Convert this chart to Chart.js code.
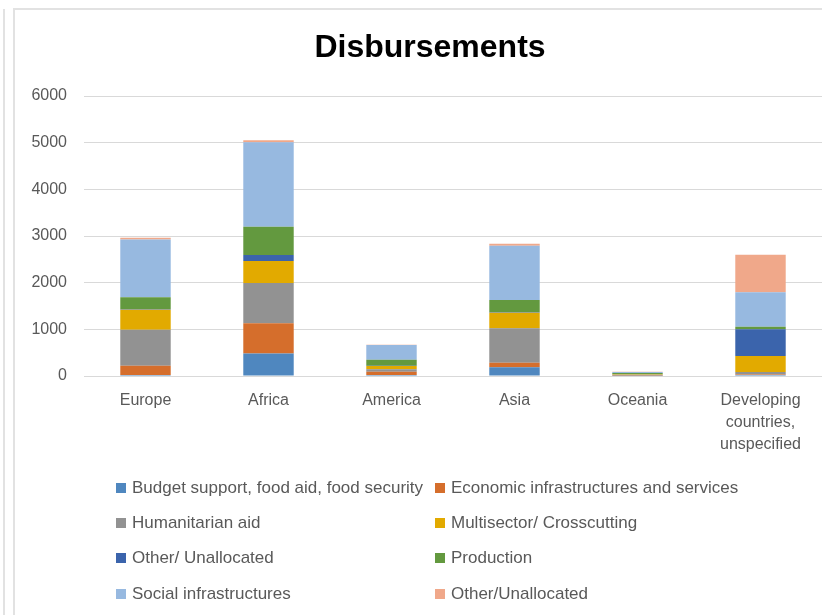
<!DOCTYPE html>
<html>
<head>
<meta charset="utf-8">
<script src="https://cdn.jsdelivr.net/npm/chart.js@4/dist/chart.umd.min.js"></script>
<style>
  html, body { margin: 0; padding: 0; background: #fff; overflow: hidden; }
  body { width: 822px; height: 615px; position: relative; font-family: "Liberation Sans", Arial, sans-serif; }
  .edge { position: absolute; background: #e2e2e2; }
  #box { position: absolute; left: 14px; top: 9px; width: 808px; height: 606px; }
  #legend { position: absolute; left: 0; top: 0; width: 822px; height: 615px; pointer-events: none; }
  .item { position: absolute; height: 22px; display: flex; align-items: center; font-size: 17px; color: #595959; white-space: nowrap; }
  .item span.sw { display: inline-block; width: 10px; height: 10px; margin-right: 6px; }
</style>
</head>
<body>
<div class="edge" style="left:3px;top:9px;width:2px;height:606px"></div>
<div class="edge" style="left:13px;top:9px;width:2px;height:606px"></div>
<div class="edge" style="left:13px;top:8px;width:809px;height:2px"></div>
<div id="box"><canvas id="disbChart" width="808" height="606"></canvas></div>
<div id="legend"></div>
<script>
const regions = ['Europe', 'Africa', 'America', 'Asia', 'Oceania', ['Developing', 'countries,', 'unspecified']];

// values per sector, same order as regions
const budgetSupport = [20, 480, 20, 186, 5, 20];
const economicInfra = [200, 650, 70, 99, 10, 10];
const humanitarian = [772, 863, 53, 736, 10, 56];
const multisector = [428, 471, 71, 336, 10, 343];
const otherUnallocated1 = [10, 129, 5, 10, 2, 571];
const production = [260, 607, 129, 262, 25, 57];
const socialInfra = [1236, 1807, 314, 1164, 25, 736];
const otherUnallocated2 = [35, 43, 5, 43, 2, 807];

const yTicks = [0, 1000, 2000, 3000, 4000, 5000, 6000];

const series = [
    { label: 'Budget support, food aid, food security', data: budgetSupport, color: '#4f87bf' },
    { label: 'Economic infrastructures and services', data: economicInfra, color: '#d56e2c' },
    { label: 'Humanitarian aid', data: humanitarian, color: '#929292' },
    { label: 'Multisector/ Crosscutting', data: multisector, color: '#e2aa00' },
    { label: 'Other/ Unallocated', data: otherUnallocated1, color: '#3b64ac' },
    { label: 'Production', data: production, color: '#63993f' },
    { label: 'Social infrastructures', data: socialInfra, color: '#97b9e0' },
    { label: 'Other/Unallocated', data: otherUnallocated2, color: '#f0a88a' }
];

const fontFam = '"Liberation Sans", Arial, sans-serif';

// the original chart is cropped on the right, so its title sits a bit right of the canvas centre
const shiftTitle = {
    id: 'shiftTitle',
    afterLayout(chart) {
        if (chart.titleBlock) chart.titleBlock.left = 24;
    }
};

const ctx = document.getElementById('disbChart').getContext('2d');
const chart = new Chart(ctx, {
    type: 'bar',
    data: {
        labels: regions,
        datasets: series.map(s => ({
            label: s.label,
            data: s.data,
            backgroundColor: s.color,
            borderWidth: 0,
            barPercentage: 0.41,
            categoryPercentage: 1
        }))
    },
    options: {
        responsive: false,
        animation: false,
        layout: { padding: { left: 0, right: 0, top: 0, bottom: 149 } },
        plugins: {
            legend: { display: false },
            tooltip: { enabled: false },
            title: {
                display: true,
                text: 'Disbursements',
                color: '#000',
                font: { family: fontFam, size: 32, weight: 'bold', lineHeight: 1.2 },
                padding: { top: 20, bottom: 28.6 }
            }
        },
        scales: {
            x: {
                stacked: true,
                grid: { display: false, drawTicks: false },
                border: { display: false },
                ticks: {
                    color: '#595959',
                    padding: 13,
                    maxRotation: 0,
                    font: { family: fontFam, size: 16, lineHeight: 1.4 }
                },
                afterFit: scale => { scale.height = 90; }
            },
            y: {
                stacked: true,
                min: 0,
                max: 6000,
                afterBuildTicks: scale => { scale.ticks = yTicks.map(v => ({ value: v })); },
                grid: { color: '#d9d9d9', lineWidth: 1, drawTicks: false },
                border: { display: false },
                ticks: {
                    color: '#595959',
                    padding: 17,
                    font: { family: fontFam, size: 16 },
                    callback: v => String(v)
                },
                afterFit: scale => { scale.width = 70; }
            }
        }
    },
    plugins: [shiftTitle]
});

// legend in two columns, like the original
const legend = document.getElementById('legend');
const colX = [116, 435];
const rowY = [488, 523, 558, 594];
chart.data.datasets.forEach((ds, i) => {
    const div = document.createElement('div');
    div.className = 'item';
    div.style.left = colX[i % 2] + 'px';
    div.style.top = (rowY[Math.floor(i / 2)] - 11) + 'px';
    const sw = document.createElement('span');
    sw.className = 'sw';
    sw.style.background = ds.backgroundColor;
    div.appendChild(sw);
    div.appendChild(document.createTextNode(ds.label));
    legend.appendChild(div);
});
</script>
</body>
</html>
